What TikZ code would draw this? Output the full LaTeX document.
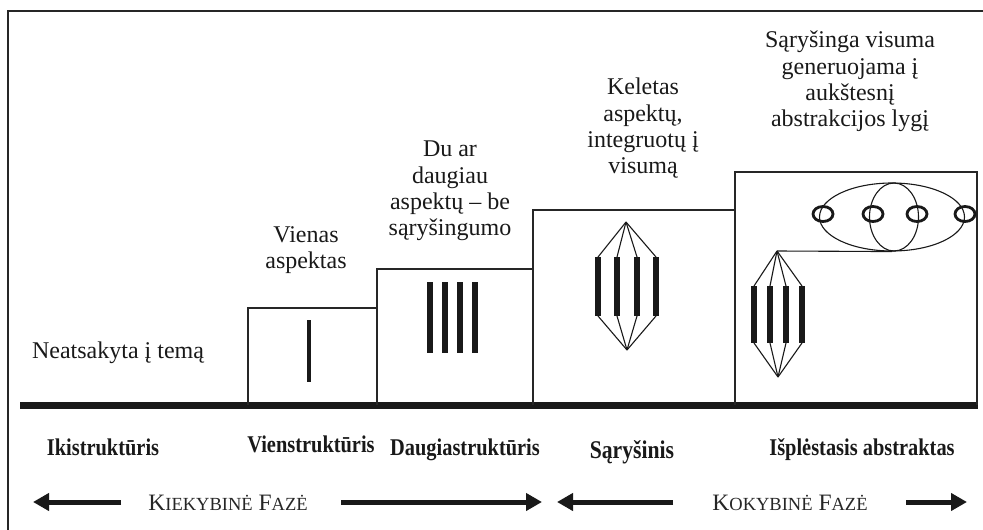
\documentclass[tikz,border=0pt]{standalone}
\usepackage{fontspec}
\setmainfont{Liberation Serif}
\newfontfamily\labfont[FakeStretch=0.85]{Liberation Serif}
\usetikzlibrary{arrows.meta,shapes.geometric}
\newcommand{\smc}[1]{{\fontsize{18.5}{20}\selectfont #1}}
\begin{document}
\begin{tikzpicture}[x=1pt,y=-1pt,
  frame/.style={line width=1.3pt,color=black!85},
  boxline/.style={line width=1.4pt,color=black!85},
  thinline/.style={line width=1.1pt,color=black!90},
  bar/.style={line width=6pt,color=black!90},
  txt/.style={font=\fontsize{24}{26.3}\selectfont,align=center,inner sep=0pt,anchor=north,text=black!90},
  lab/.style={font=\labfont\fontsize{24}{26}\selectfont\bfseries,inner sep=0pt,anchor=base,text=black!90},
  phase/.style={font=\fontsize{23.5}{25}\selectfont,inner sep=0pt,anchor=base,text=black!85},
  fatarrow/.style={line width=5pt,color=black!90,-{Triangle[length=16pt,width=17pt]}},
  smallring/.style={draw,line width=2.8pt,color=black!90}
]
\useasboundingbox (0,0) rectangle (983,530);
% outer frame (continues beyond the image)
\draw[frame] (8,540) -- (8,11) -- (990,11);

% base line
\coordinate (bl) at (20,405);
\coordinate (br) at (978,405);
\draw[line width=7pt,color=black!90] (bl) -- (br);

% boxes
\draw[boxline] (248,405) -- (248,308) -- (377,308) -- (377,405);
\draw[boxline] (377,308) -- (377,269) -- (533,269) -- (533,405);
\draw[boxline] (533,269) -- (533,210) -- (735,210) -- (735,405);
\draw[boxline] (735,210) -- (735,172) -- (977,172) -- (977,405);

% box 1: single bar
\coordinate (s1t) at (309,320);
\coordinate (s1b) at (309,382);
\draw[line width=3.5pt,color=black!90] (s1t) -- (s1b);

% box 2: four bars
\foreach \i/\x in {1/430,2/445,3/460,4/475}{
  \coordinate (m\i t) at (\x,282);
  \coordinate (m\i b) at (\x,353);
  \draw[bar] (m\i t) -- (m\i b);
}

% box 3: integrated bars
\coordinate (A3) at (626,222);
\coordinate (B3) at (627,350);
\foreach \i/\x in {1/598,2/617,3/637,4/656}{
  \coordinate (r\i t) at (\x,257);
  \coordinate (r\i b) at (\x,316);
  \draw[bar] (r\i t) -- (r\i b);
  \draw[thinline] (A3) -- (r\i t);
  \draw[thinline] (r\i b) -- (B3);
}

% box 4: integrated bars + abstraction
\coordinate (A4) at (777,251);
\coordinate (B4) at (778,377);
\foreach \i/\x in {1/754,2/770,3/786,4/802}{
  \coordinate (e\i t) at (\x,286);
  \coordinate (e\i b) at (\x,343);
  \draw[bar] (e\i t) -- (e\i b);
  \draw[thinline] (A4) -- (e\i t);
  \draw[thinline] (e\i b) -- (B4);
}
\node[ellipse,draw,thinline,minimum width=145pt,minimum height=68pt,inner sep=0pt] (E) at (892,217) {};
\node[ellipse,draw,thinline,minimum width=49pt,minimum height=68pt,inner sep=0pt] (Ei) at (894,217) {};
\draw[thinline] (A4) -- (E.south);
\foreach \x in {823,873,917,965}{
  \draw[smallring] (\x,214) ellipse [x radius=10pt,y radius=7.5pt];
}

% texts
\node[txt] (t0) at (118,342) {Neatsakyta į temą};
\node[txt] (t1) at (306,226) {Vienas\\aspektas};
\node[txt] (t2) at (450,141) {Du ar\\daugiau\\aspektų – be\\sąryšingumo};
\node[txt] (t3) at (643,78) {Keletas\\aspektų,\\integruotų į\\visumą};
\node[txt] (t4) at (850,31) {Sąryšinga visuma\\generuojama į\\aukštesnį\\abstrakcijos lygį};

% stage labels
\node[lab] (l1) at (103,455) {Ikistruktūris};
\node[lab] (l2) at (311,452) {Vienstruktūris};
\node[lab] (l3) at (465,455) {Daugiastruktūris};
\node[lab,font=\labfont\fontsize{25.5}{27}\selectfont\bfseries] (l4) at (632,458) {Sąryšinis};
\node[lab] (l5) at (862,455) {Išplėstasis abstraktas};

% phases
\node[phase] (p1) at (228,510) {K\smc{IEKYBINĖ} F\smc{AZĖ}};
\node[phase] (p2) at (790,510) {K\smc{OKYBINĖ} F\smc{AZĖ}};
\coordinate (a1s) at (121,502); \coordinate (a1e) at (33,502);
\coordinate (a2s) at (341,502); \coordinate (a2e) at (542,502);
\coordinate (a3s) at (673,502); \coordinate (a3e) at (557,502);
\coordinate (a4s) at (906,502); \coordinate (a4e) at (967,502);
\draw[fatarrow] (a1s) -- (a1e);
\draw[fatarrow] (a2s) -- (a2e);
\draw[fatarrow] (a3s) -- (a3e);
\draw[fatarrow] (a4s) -- (a4e);
\end{tikzpicture}
\end{document}
